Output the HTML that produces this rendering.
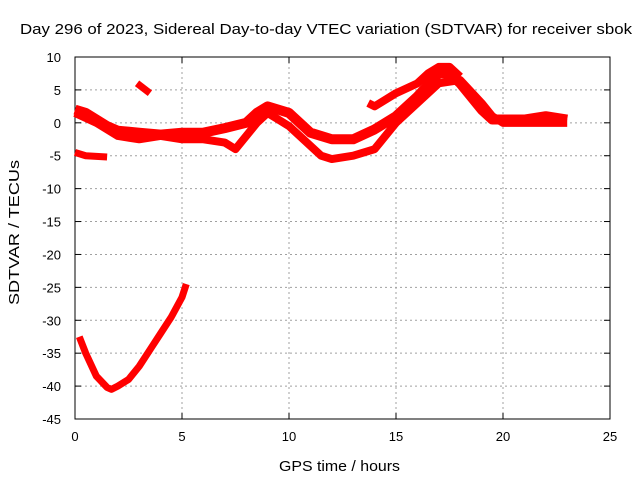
<!DOCTYPE html>
<html><head><meta charset="utf-8"><style>
body{margin:0;background:#fff;}
svg text{font-family:"Liberation Sans",sans-serif;font-size:13px;fill:#000;}
</style></head><body>
<svg id="chart" width="640" height="480">
<text x="20" y="34" textLength="612" lengthAdjust="spacingAndGlyphs" style="font-size:15px">Day 296 of 2023, Sidereal Day-to-day VTEC variation (SDTVAR) for receiver sbok</text>
<text x="279" y="471" textLength="121" lengthAdjust="spacingAndGlyphs" style="font-size:15px">GPS time / hours</text>
<text transform="translate(19,305) rotate(-90)" textLength="145" lengthAdjust="spacingAndGlyphs" style="font-size:15px">SDTVAR / TECUs</text>
<g id="grid"></g><g id="axes"></g><g id="series"></g>
</svg>
<script>
const xTicks=[0,5,10,15,20,25];
const yTicks=[10,5,0,-5,-10,-15,-20,-25,-30,-35,-40,-45];
const seriesUpper=[[0,2],[0.5,1.5],[1,0.5],[1.5,-0.5],[2,-1.2],[3,-1.5],[4,-1.8],[5,-1.5],[6,-1.5],[7,-0.8],[8,0],[8.5,1.5],[9,2.5],[9.5,2],[10,1.5],[10.5,0],[11,-1.5],[12,-2.5],[13,-2.5],[14,-1],[15,1],[16,4],[17,7.5],[17.5,7.5],[18,6],[19,2],[19.5,0.5],[20,0.5],[21,0.5],[22,1],[23,0.5]];
const seriesLower=[[0,1.5],[1,0],[2,-2],[3,-2.5],[4,-2],[5,-2.5],[6,-2.5],[7,-3],[7.5,-4],[8,-2],[8.5,0],[9,1.5],[9.5,0.5],[10,-0.5],[10.5,-2],[11,-3.5],[11.5,-5],[12,-5.5],[13,-5],[14,-4],[14.5,-2],[15,0],[16,3],[17,6],[18,6.5],[19,3],[19.5,1],[20,0],[22,0],[23,0]];
const seriesShortLow=[[0,-4.5],[0.5,-5],[1.5,-5.2]];
const seriesShortHigh=[[2.9,6],[3.5,4.5]];
const seriesRise=[[13.7,3],[14,2.5],[15,4.5],[16,6],[16.5,7.5],[17,8.5],[17.5,8.5],[18,7]];
const seriesDeep=[[0.2,-32.5],[0.5,-35],[1,-38.5],[1.5,-40.2],[1.7,-40.5],[2,-40],[2.5,-39],[3,-37],[3.5,-34.5],[4,-32],[4.5,-29.5],[5,-26.5],[5.2,-24.5]];
const L=75,R=610,T=57,B=419;
const X=h=>L+(h-0)/(25-0)*(R-L);
const Y=v=>T+(10-v)/(10-(-45))*(B-T);
const NS="http://www.w3.org/2000/svg";
function mk(t,a,p){const e=document.createElementNS(NS,t);for(const k in a)e.setAttribute(k,a[k]);p.appendChild(e);return e;}
const grid=document.getElementById('grid'),axes=document.getElementById('axes'),ser=document.getElementById('series');
xTicks.forEach(t=>{
 if(t>0&&t<25){const g=mk('line',{x1:X(t),x2:X(t),y1:T,y2:B,stroke:'#a0a0a0','stroke-dasharray':'2,3'},grid);
 
 }
 const tx=mk('text',{x:X(t),y:B+22,'text-anchor':'middle'},axes);tx.textContent=t;
 
 
 mk('line',{x1:X(t),x2:X(t),y1:B,y2:B-6,stroke:'#000'},axes);mk('line',{x1:X(t),x2:X(t),y1:T,y2:T+6,stroke:'#000'},axes);
});
yTicks.forEach(t=>{
 if(t<10&&t>-45){const g=mk('line',{x1:L,x2:R,y1:Y(t),y2:Y(t),stroke:'#a0a0a0','stroke-dasharray':'2,3'},grid);
 
 }
 const tx=mk('text',{x:L-14,y:Y(t)+5,'text-anchor':'end'},axes);tx.textContent=t;
 
 
 mk('line',{x1:L,x2:L+6,y1:Y(t),y2:Y(t),stroke:'#000'},axes);mk('line',{x1:R,x2:R-6,y1:Y(t),y2:Y(t),stroke:'#000'},axes);
});
const fr=mk('rect',{x:L,y:T,width:R-L,height:B-T,fill:'none',stroke:'#000'},axes);


const all=[['series-upper',seriesUpper,10],['series-lower',seriesLower,8],['series-short-low',seriesShortLow,7],['series-short-high',seriesShortHigh,7],['series-rise',seriesRise,8],['series-deep',seriesDeep,7]];
all.forEach(([n,d,w])=>{
 const p=mk('polyline',{points:d.map(q=>X(q[0])+','+Y(q[1])).join(' '),fill:'none',stroke:'#ff0000','stroke-width':w,'stroke-linejoin':'round'},ser);
 
 
});
</script>
</body></html>
